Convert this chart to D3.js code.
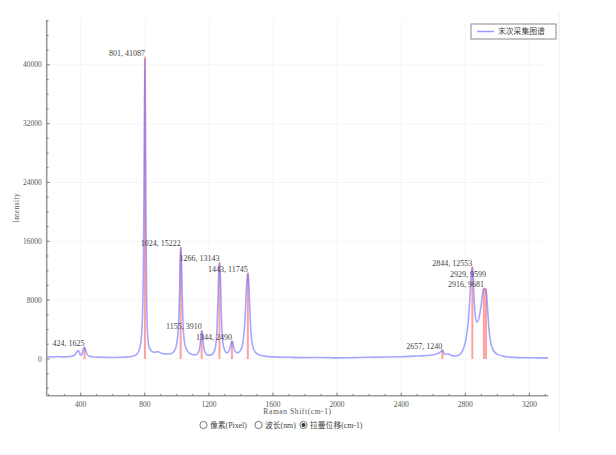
<!DOCTYPE html>
<html><head><meta charset="utf-8">
<script src="https://cdn.jsdelivr.net/npm/d3@7"></script>
<style>
body{margin:0;background:#fff;}
svg{display:block;}
</style></head>
<body>
<svg id="chart" width="616" height="455"></svg>
<script>
const ramanShift = [188,200,230,260,290,320,340,360,372,380,386,392,398,405,412,418,424,430,438,450,470,500,550,600,650,700,730,750,765,777,786,792,797,801,804,808,812,817,825,840,860,880,900,930,960,985,1000,1010,1017,1022,1026,1030,1035,1042,1052,1068,1090,1115,1135,1146,1152,1157,1162,1168,1178,1195,1215,1235,1248,1256,1262,1267,1272,1278,1286,1298,1312,1325,1335,1342,1347,1354,1365,1380,1398,1412,1424,1432,1438,1444,1450,1456,1463,1475,1490,1515,1550,1600,1700,1800,1900,2000,2100,2200,2300,2400,2480,2550,2600,2630,2648,2657,2665,2675,2688,2700,2715,2740,2770,2790,2805,2818,2828,2836,2843,2848,2855,2863,2872,2882,2892,2902,2910,2916,2922,2929,2934,2940,2948,2958,2972,2990,3010,3040,3080,3150,3250,3318];
const intensity = [280,300,260,320,280,300,350,500,800,1050,1130,900,500,550,900,1400,1600,1300,700,400,300,250,220,200,220,280,400,650,1200,2500,6000,14000,30000,40800,34000,18000,8000,3500,1800,1100,900,1000,800,650,700,1100,2200,4500,9000,14000,15100,12500,7500,3500,1800,1000,650,550,900,2000,3300,3750,3100,1600,800,500,550,1100,3000,7500,12000,13000,11000,6000,2500,1200,800,1100,1800,2400,2350,1700,1000,850,1200,2200,4800,8500,10800,11600,10000,6500,3500,1600,900,550,380,280,220,180,200,150,180,220,260,300,380,450,580,750,1000,1200,850,600,700,650,450,400,700,1500,2800,5000,8000,11000,12500,11500,8000,5800,5000,5300,6300,7800,9200,9500,9450,9400,8500,6500,4000,2300,1300,800,550,350,250,180,150,140];
const peakShift = [424,801,1024,1155,1266,1344,1443,2657,2844,2916,2929];
const peakIntensity = [1625,41087,15222,3910,13143,2490,11745,1240,12553,9681,9599];
const xTicks = [400,800,1200,1600,2000,2400,2800,3200];
const yTicks = [0,8000,16000,24000,32000,40000];
const xTitle = "Raman Shift(cm-1)";
const yTitle = "Intensity";
const legendLabel = "末次采集图谱";
const modeLabels = ["像素(Pixel)","波长(nm)","拉曼位移(cm-1)"];
const selectedMode = 2;

const svg = d3.select("#chart");
const L = 46.7, R = 548.3, T = 20, B = 395.7;
const x = d3.scaleLinear().domain([188, 3318]).range([L, R]);
const y = d3.scaleLinear().domain([-5000, 46100]).range([B, T]);
const serif = "'Liberation Serif','DejaVu Serif','Noto Sans CJK SC',serif";
const cjk = "'Noto Sans CJK SC','Noto Sans',sans-serif";

svg.append("line").attr("x1",559).attr("x2",559).attr("y1",13).attr("y2",433)
  .attr("stroke","#eeeeee").attr("stroke-width",1);

const g = svg.append("g");
g.selectAll(".vg").data(xTicks).join("line")
  .attr("x1",d=>x(d)).attr("x2",d=>x(d)).attr("y1",T).attr("y2",B)
  .attr("stroke","#ececec").attr("stroke-width",1).attr("stroke-dasharray","1,1");
g.selectAll(".hg").data(yTicks).join("line")
  .attr("x1",L).attr("x2",R).attr("y1",d=>y(d)).attr("y2",d=>y(d))
  .attr("stroke","#ececec").attr("stroke-width",1).attr("stroke-dasharray","1,1");

svg.append("clipPath").attr("id","clip").append("rect")
  .attr("x",L).attr("y",T).attr("width",R-L).attr("height",B-T);
const plot = svg.append("g").attr("clip-path","url(#clip)");

const peaks = peakShift.map((s,i)=>({s, v:peakIntensity[i]}));
plot.selectAll(".pk").data(peaks).join("line")
  .attr("x1",d=>x(d.s)).attr("x2",d=>x(d.s)).attr("y1",y(0)).attr("y2",d=>y(d.v))
  .attr("stroke","#ff8a8a").attr("stroke-width",2).attr("stroke-opacity",0.8);

const pts = ramanShift.map((s,i)=>[s,intensity[i]]);
const line = d3.line().x(d=>x(d[0])).y(d=>y(d[1])).curve(d3.curveMonotoneX);
plot.append("path").datum(pts).attr("d",line).attr("fill","none")
  .attr("stroke","#6b6bff").attr("stroke-opacity",0.6).attr("stroke-width",1.6);

const axG = svg.append("g").attr("font-family",serif).attr("font-size",7.5).attr("fill","#555");
axG.append("line").attr("x1",L).attr("x2",R).attr("y1",B).attr("y2",B).attr("stroke","#9a9a9a").attr("stroke-width",1.6);
axG.append("line").attr("x1",L).attr("x2",L).attr("y1",T).attr("y2",B).attr("stroke","#9a9a9a").attr("stroke-width",1.6);
const xMinor = d3.range(200, 3318, 100);
axG.selectAll(".xm").data(xMinor).join("line")
  .attr("x1",d=>x(d)).attr("x2",d=>x(d)).attr("y1",B).attr("y2",d=> xTicks.includes(d)?B-3:B-1.8)
  .attr("stroke","#777").attr("stroke-width",1);
const yMinor = d3.range(-4000, 46100, 2000);
axG.selectAll(".ym").data(yMinor).join("line")
  .attr("x1",L).attr("x2",d=> yTicks.includes(d)?L+3:L+1.8).attr("y1",d=>y(d)).attr("y2",d=>y(d))
  .attr("stroke","#777").attr("stroke-width",1);
axG.selectAll(".xl").data(xTicks).join("text")
  .attr("x",d=>x(d)).attr("y",B+11).attr("text-anchor","middle").text(d=>d);
axG.selectAll(".yl").data(yTicks).join("text")
  .attr("x",L-5).attr("y",d=>y(d)+2.6).attr("text-anchor","end").text(d=>d);
axG.append("text").attr("x",(L+R)/2).attr("y",B+18.5).attr("text-anchor","middle")
  .attr("letter-spacing",0.6).text(xTitle);
axG.append("text").attr("transform",`translate(19,${(T+B)/2}) rotate(-90)`)
  .attr("text-anchor","middle").attr("letter-spacing",0.4).text(yTitle);

const lab = svg.append("g").attr("font-family",serif).attr("font-size",8).attr("fill","#444");
const placed = [];
peaks.slice().sort((a,b)=>a.s-b.s).forEach(p=>{
  const px = x(p.s);
  let by = y(p.v) - 1;
  const t = lab.append("text").attr("x",px).attr("text-anchor","end").text(`${p.s}, ${p.v}`);
  const w = t.node().getComputedTextLength();
  const h = 8;
  let moved = true;
  while(moved){
    moved = false;
    for(const b of placed){
      const ox = px - w < b.x2 && px > b.x1;
      const oy = by - h < b.y2 && by > b.y1;
      if(ox && oy){ by = b.y1 - 2; moved = true; }
    }
  }
  t.attr("y",by);
  placed.push({x1:px-w, x2:px, y1:by-h, y2:by});
});

const lg = svg.append("g");
lg.append("rect").attr("x",471).attr("y",24).attr("width",85).attr("height",15)
  .attr("fill","#fff").attr("stroke","#888").attr("stroke-width",1);
lg.append("line").attr("x1",477).attr("x2",494).attr("y1",31.5).attr("y2",31.5)
  .attr("stroke","#9a9aff").attr("stroke-width",1.5);
lg.append("text").attr("x",498).attr("y",34.3).attr("font-family",cjk).attr("font-size",7.8)
  .attr("fill","#444").text(legendLabel);

const radioX = [203.5, 258.5, 303.5];
const rg = svg.append("g");
modeLabels.forEach((m,i)=>{
  rg.append("circle").attr("cx",radioX[i]).attr("cy",425).attr("r",3.6)
    .attr("fill","#fff").attr("stroke","#666").attr("stroke-width",0.9);
  if(i===selectedMode) rg.append("circle").attr("cx",radioX[i]).attr("cy",425).attr("r",2)
    .attr("fill","#333");
  rg.append("text").attr("x",radioX[i]+6.5).attr("y",427.8).attr("font-family",serif)
    .attr("font-size",7.8).attr("fill","#444").text(m);
});
</script>
</body></html>
